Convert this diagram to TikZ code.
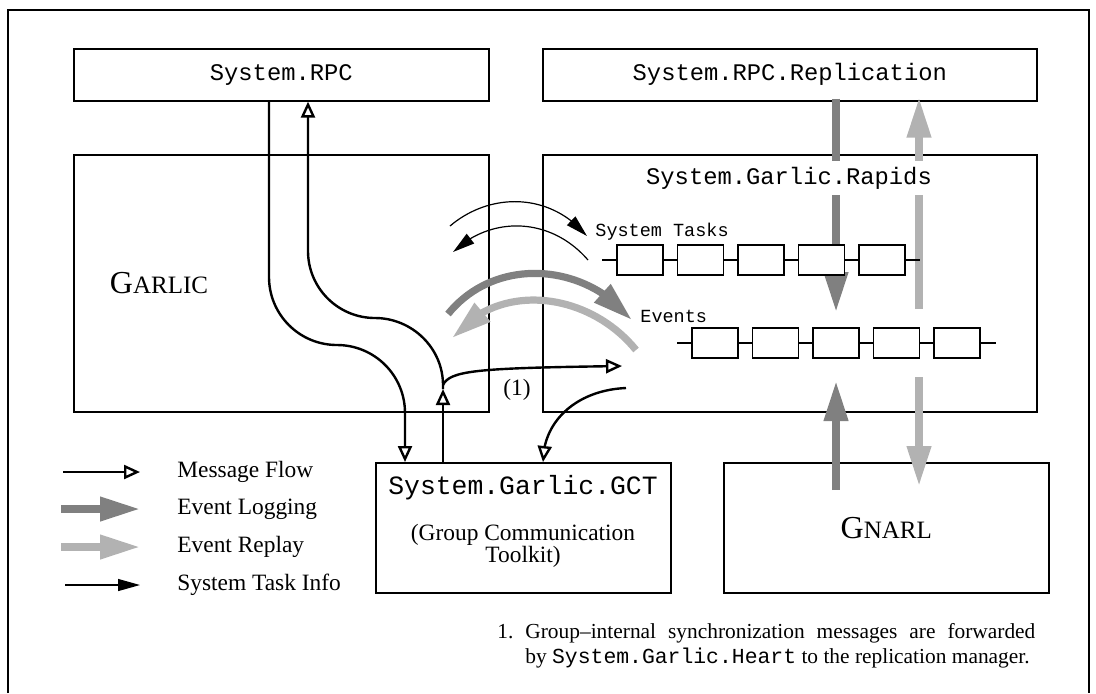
\documentclass[tikz,border=0pt]{standalone}
\usepackage{fontspec}
\setmainfont{Liberation Serif}
\setmonofont{Liberation Mono}
\usetikzlibrary{arrows.meta,bending}
\definecolor{evlog}{gray}{0.5}
\definecolor{evrep}{gray}{0.7}
\newcommand{\fakesc}[2]{{\fontsize{16}{18}\selectfont #1}{\fontsize{12.5}{14}\selectfont #2}}

\begin{document}
\begin{tikzpicture}[x=0.5pt,y=-0.5pt,
	box/.style={draw,line width=0.8pt,anchor=north west,inner sep=0pt},
	modname/.style={font=\fontsize{11.9}{14}\selectfont\ttfamily},
	gctfont/.style={font=\fontsize{13.2}{15}\selectfont\ttfamily},
	qname/.style={font=\fontsize{9.25}{11}\selectfont\ttfamily,anchor=west,inner sep=0pt},
	plain/.style={font=\fontsize{11.7}{14}\selectfont},
	footfont/.style={font=\fontsize{10.7}{12.5}\selectfont},
	cell/.style={draw,fill=white,line width=0.7pt,minimum width=23pt,minimum height=15pt,inner sep=0pt},
	msg/.style={line width=1.2pt,-{Triangle[open,length=8pt,width=7pt]}},
	info/.style={line width=0.6pt,-{Triangle[length=11pt,width=6pt]}},
	logging/.style={line width=3.6pt,draw=evlog,-{Triangle[length=20pt,width=11.5pt]}},
	replay/.style={line width=3.6pt,draw=evrep,-{Triangle[length=20pt,width=11.5pt]}}]
	\useasboundingbox (0,0) rectangle (1096,693);
	% frame
	\draw[line width=0.8pt] (8,693) -- (8,10) -- (1089,10) -- (1089,693);

	% boxes
	\node[box,modname,minimum width=207.5pt,minimum height=26pt] (rpc) at (73,48) {System.RPC};
	\node[box,modname,minimum width=247pt,minimum height=26pt] (repl) at (542,48) {System.RPC.Replication};
	\node[box,minimum width=207.5pt,minimum height=128.5pt] (garlic) at (73,154) {};
	\node[box,minimum width=247pt,minimum height=128.5pt] (rapids) at (542,154) {};
	\node[box,minimum width=147.5pt,minimum height=65pt] (gct) at (375,462) {};
	\node[box,minimum width=162.5pt,minimum height=65pt] (gnarl) at (723,462) {\fakesc{G}{NARL}};
	\node (garlicname) at (159,283) {\fakesc{G}{ARLIC}};
	\node[gctfont] (gctname) at (523,488) {System.Garlic.GCT};
	\node[font=\fontsize{11.7}{11}\selectfont,align=center] (gctdesc) at (523,546) {(Group Communication\\Toolkit)};

	\coordinate (xa) at (269,0);
	\coordinate (xb) at (308,0);
	\coordinate (xc) at (405,0);
	\coordinate (xd) at (443,0);
	\coordinate (xe) at (543,0);
	\coordinate (xlog) at (836,0);
	\coordinate (xrep) at (919,0);

	% logging / replay
	\draw[logging] ([yshift=1.5pt]repl.south -| xlog) -- (836,312);
	\draw[replay] (919,309) -- ([yshift=2pt]repl.south -| xrep);
	\draw[logging] ([yshift=-14pt]gnarl.north -| xlog) -- (836,381);
	\draw[replay] (919,377) -- ([yshift=-12pt]gnarl.north -| xrep);
	\draw[logging] (448,314) .. controls (495,256) and (585,262) .. (632,320);
	\draw[replay] (636,350) .. controls (589,292) and (499,280) .. (452,338);
	\node[modname,fill=white,inner xsep=2pt,inner ysep=2.9pt] (rapidsname) at (789,178) {System.Garlic.Rapids};

	% queues
	\node[qname] (stname) at (595,232) {System Tasks};
	\node[qname] (evname) at (640,316) {Events};
	\draw[line width=0.7pt] (602,260) -- (920,260);
	\draw[line width=0.7pt] (677,343) -- (996,343);
	\foreach \i in {1,...,5} {
		\node[cell] (st\i) at ({579.5+60.5*\i},260) {};
		\node[cell] (ev\i) at ({654.5+60.5*\i},343) {};
	}

	% system task info
	\draw[info] (450,226) .. controls (490,192) and (550,192) .. (587,236);
	\draw[info] (588,260) .. controls (550,216) and (490,216) .. (453,252);

	% message flow
	\draw[msg] (rpc.south -| xa) -- (269,277) .. controls (269,314.6) and (299.4,345) .. (337,345)
		.. controls (374.6,345) and (405,375.4) .. (405,413) -- (gct.north -| xc);
	\draw[msg] (gct.north -| xd) -- (443,389);
	\draw[msg] (443,389) -- (443,385) .. controls (443,348) and (412,318) .. (375,318)
		.. controls (338,318) and (308,288) .. (308,251) -- (rpc.south -| xb);
	\coordinate (sync) at (622,366);
	\coordinate (heart) at (626,388);
	\draw[msg] (443,385) .. controls (450,370) and (480,368) .. (sync);
	\draw[msg] (heart) .. controls (578,390) and (543,420) .. (gct.north -| xe);
	\node[plain] (mark) at (517,390) {(1)};

	% legend
	\draw[msg] (63,472) -- (140,472);
	\draw[logging] (61,509) -- (140,509);
	\draw[replay] (61,547) -- (140,547);
	\draw[info] (65,585) -- (140,585);
	\node[plain,anchor=west,inner sep=0pt] (lmsg) at (177,472) {Message Flow};
	\node[plain,anchor=west,inner sep=0pt] (llog) at (177,509) {Event Logging};
	\node[plain,anchor=west,inner sep=0pt] (lrep) at (177,547) {Event Replay};
	\node[plain,anchor=west,inner sep=0pt] (linfo) at (177,585) {System Task Info};

	% footnote
	\node[footfont,anchor=north west,inner sep=0pt,text width=255pt,align=justify] (note) at (525,623)
		{Group--internal synchronization messages are forwarded\linebreak by \texttt{System.Garlic.Heart} to the replication manager.};
	\node[footfont,anchor=base west,inner sep=0pt] (num) at ([xshift=-14pt]note.base west) {1.};
\end{tikzpicture}
\end{document}
